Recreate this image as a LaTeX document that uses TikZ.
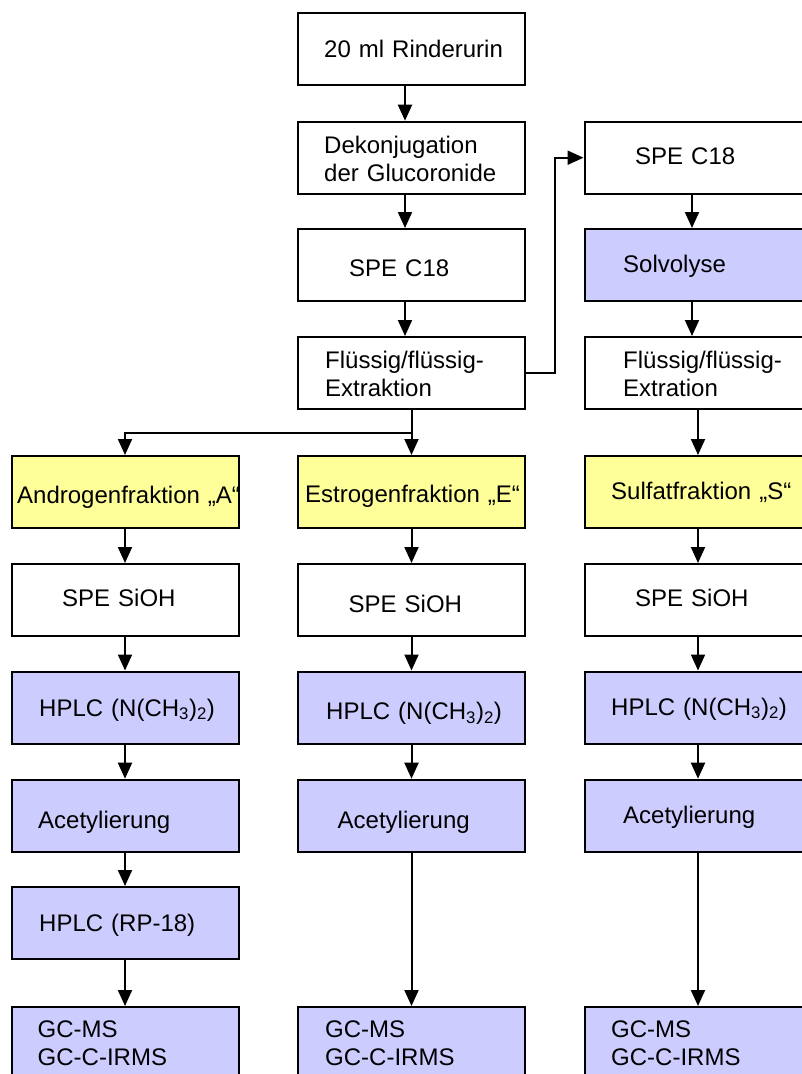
\documentclass[tikz,border=0pt]{standalone}
\usepackage{fontspec}
\setmainfont{Liberation Sans}
\usetikzlibrary{arrows.meta, calc}
\definecolor{fractionColor}{RGB}{255,255,153}
\definecolor{stepColor}{RGB}{204,204,255}
\tikzstyle{flowChart} = [x = 1pt, y = -1pt, font = \fontsize{24}{28.5}\selectfont]
\tikzstyle{plainBox} = [draw = black, line width = 2pt, fill = white, minimum width = 227pt, minimum height = 72pt, inner sep = 0pt]
\tikzstyle{fractionBox} = [plainBox, fill = fractionColor]
\tikzstyle{stepBox} = [plainBox, fill = stepColor]
\tikzstyle{stepText} = [anchor = base west, inner sep = 0pt, align = left, text width = 240pt]
\tikzstyle{flowArrow} = [line width = 2pt, -{Triangle[width = 14pt, length = 16pt]}]
% #1 style, #2 name, #3/#4 box centre, #5/#6 text start (baseline), #7 text
\newcommand{\flowBox}[7]{\node [#1] (#2) at (#3, #4) {}; \node [stepText] (#2Text) at (#5, #6) {#7};}
\newcommand{\flowArrowShift}[3]{\draw [flowArrow] ([xshift = #3]#1.south) -- ([xshift = #3]#2.north);}

\begin{document}
\begin{tikzpicture}[flowChart]
  \useasboundingbox (0, 0) rectangle (802, 1074);
  \clip (0, 0) rectangle (802, 1074);

  % middle column, top
  \flowBox{plainBox}{rind}{411.5}{49.3}{324}{57.3}{20 ml Rinderurin}
  \flowBox{plainBox}{dekon}{411.5}{157.7}{324}{153}{Dekonjugation\\der Glucoronide}
  \flowBox{plainBox}{speMid}{411.5}{265}{349}{276.7}{SPE C18}
  \flowBox{plainBox}{fluss}{411.5}{373}{325}{368.3}{Flüssig/flüssig-\\Extraktion}

  % right column, top
  \flowBox{plainBox}{speRight}{698}{157.7}{635}{164}{SPE C18}
  \flowBox{stepBox}{solvo}{698}{265}{623}{272.7}{Solvolyse}
  \flowBox{plainBox}{flussRight}{698}{373}{623}{368.3}{Flüssig/flüssig-\\Extration}

  % fractions
  \flowBox{fractionBox}{andro}{125}{492}{17}{503}{Androgenfraktion „A“}
  \flowBox{fractionBox}{estro}{411.5}{492}{305}{502.3}{Estrogenfraktion „E“}
  \flowBox{fractionBox}{sulfat}{698}{492}{611}{499.3}{Sulfatfraktion „S“}

  \flowBox{plainBox}{siohA}{125}{600}{62}{606.7}{SPE SiOH}
  \flowBox{plainBox}{siohE}{411.5}{600}{348.5}{612.3}{SPE SiOH}
  \flowBox{plainBox}{siohS}{698}{600}{635}{606.7}{SPE SiOH}

  \flowBox{stepBox}{hplcA}{125}{707.5}{39}{716}{HPLC (N(CH\textsubscript{3})\textsubscript{2})}
  \flowBox{stepBox}{hplcE}{411.5}{707.5}{326}{719.3}{HPLC (N(CH\textsubscript{3})\textsubscript{2})}
  \flowBox{stepBox}{hplcS}{698}{707.5}{611}{715}{HPLC (N(CH\textsubscript{3})\textsubscript{2})}

  \flowBox{stepBox}{acetA}{125}{815.7}{38}{828.3}{Acetylierung}
  \flowBox{stepBox}{acetE}{411.5}{815.7}{337.5}{828.3}{Acetylierung}
  \flowBox{stepBox}{acetS}{698}{815.7}{623}{823.3}{Acetylierung}

  \flowBox{stepBox}{rpA}{125}{923}{39}{931}{HPLC (RP-18)}

  \flowBox{stepBox}{gcA}{125}{1043}{37.5}{1037.3}{GC-MS\\GC-C-IRMS}
  \flowBox{stepBox}{gcE}{411.5}{1043}{325}{1037.3}{GC-MS\\GC-C-IRMS}
  \flowBox{stepBox}{gcS}{698}{1043}{611}{1037}{GC-MS\\GC-C-IRMS}

  % arrows
  \flowArrowShift{rind}{dekon}{-6.5pt}
  \flowArrowShift{dekon}{speMid}{-6.5pt}
  \flowArrowShift{speMid}{fluss}{-6.5pt}
  \flowArrowShift{speRight}{solvo}{-6pt}
  \flowArrowShift{solvo}{flussRight}{-6pt}
  \draw [flowArrow] (fluss.east) -- ++(29, 0) |- (speRight.west);

  \coordinate (split) at ($(fluss.south)!0.5!(estro.north)$);
  \draw [flowArrow] (fluss.south) -- (estro.north);
  \draw [flowArrow] (split) -| (andro.north);
  \draw [flowArrow] (flussRight.south) -- (sulfat.north);

  \foreach \from/\to in {andro/siohA, siohA/hplcA, hplcA/acetA, acetA/rpA, rpA/gcA,
                         estro/siohE, siohE/hplcE, hplcE/acetE, acetE/gcE,
                         sulfat/siohS, siohS/hplcS, hplcS/acetS, acetS/gcS}
    \draw [flowArrow] (\from.south) -- (\to.north);
\end{tikzpicture}
\end{document}
